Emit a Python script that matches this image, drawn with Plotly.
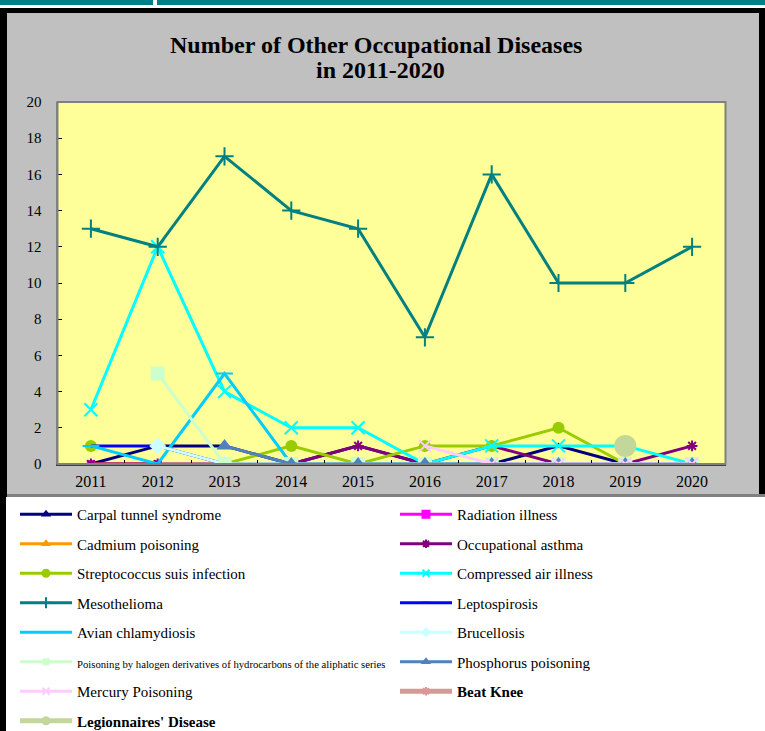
import plotly.graph_objects as go

W, H = 765, 731

years = ["2011", "2012", "2013", "2014", "2015", "2016", "2017", "2018", "2019", "2020"]
y_ticks = [0, 2, 4, 6, 8, 10, 12, 14, 16, 18, 20]

carpal_tunnel = [0, 1, 1, 0, 1, 0, 0, 1, 0, 0]
radiation_illness = [0, 0, None, None, None, None, None, None, None, None]
cadmium_poisoning = [0, 0, None, None, None, None, None, None, None, None]
occupational_asthma = [0, 0, 0, 0, 1, 0, 1, 0, 0, 1]
streptococcus_suis = [1, None, 0, 1, 0, 1, 1, 2, 0, None]
compressed_air = [3, 12, 4, 2, 2, 0, 1, 1, 1, 0]
mesothelioma = [13, 12, 17, 14, 13, 7, 16, 10, 10, 12]
leptospirosis = [1, 1, 0, 0, 0, 0, 0, 0, 0, 0]
avian_chlamydiosis = [1, 0, 5, 0, 0, 0, 0, 0, 0, 0]
brucellosis = [None, 1, 0, 0, 0, 0, 0, 0, 0, 0]
halogen_poisoning = [None, 5, 0, 0, 0, 0, 0, 0, 0, 0]
phosphorus_poisoning = [None, None, 1, 0, 0, 0, 0, 0, 0, 0]
mercury_poisoning = [None, None, None, None, None, 1, 0, 0, 0, 0]
beat_knee = [None, None, None, None, None, None, None, None, 1, None]
legionnaires = [None, None, None, None, None, None, None, None, 1, None]

series = [
    # name, values, color, symbol, plot size, legend size, legend line width, legend
    ("Carpal tunnel syndrome", carpal_tunnel, "#000080", "triangle-up", 7, 9, 3, "legend"),
    ("Radiation illness", radiation_illness, "#FF00FF", "square", 8, 9, 3, "legend2"),
    ("Cadmium poisoning", cadmium_poisoning, "#FF9900", "triangle-up", 8, 9, 3, "legend"),
    ("Occupational asthma", occupational_asthma, "#800080", "asterisk-open", 9, 7, 3, "legend2"),
    ("Streptococcus suis infection", streptococcus_suis, "#99CC00", "circle", 12, 9, 3, "legend"),
    ("Compressed air illness", compressed_air, "#00FFFF", "x-thin-open", 13, 7, 3, "legend2"),
    ("Mesothelioma", mesothelioma, "#008080", "cross-thin-open", 13, 8, 3, "legend"),
    ("Leptospirosis", leptospirosis, "#0000FF", "line-ew-open", 8, 6, 3, "legend2"),
    ("Avian chlamydiosis", avian_chlamydiosis, "#00CCFF", "line-ew-open", 12, 8, 3, "legend"),
    ("Brucellosis", brucellosis, "#CCFFFF", "diamond", 13, 8, 3, "legend2"),
    ('<span style="font-size:10.7px">Poisoning by halogen derivatives of hydrocarbons of the aliphatic series</span>',
     halogen_poisoning, "#CCFFCC", "square", 14, 7, 3, "legend"),
    ("Phosphorus poisoning", phosphorus_poisoning, "#4F81BD", "triangle-up", 14, 9, 3, "legend2"),
    ("Mercury Poisoning", mercury_poisoning, "#FFCCFF", "x-thin-open", 12, 7, 3, "legend"),
    ("<b>Beat Knee</b>", beat_knee, "#D99795", "asterisk-open", 10, 7, 5, "legend2"),
    ("<b>Legionnaires' Disease</b>", legionnaires, "#C4D79B", "circle", 22, 9, 5, "legend"),
]

fig = go.Figure()
for i, (name, vals, color, sym, size, lsize, lw, leg) in enumerate(series):
    open_sym = sym.endswith("-open")
    fig.add_trace(go.Scatter(
        x=years, y=vals, name=name, mode="lines+markers",
        line=dict(color=color, width=3),
        marker=dict(symbol=sym, size=size, color=color,
                    line=dict(color=color, width=2 if open_sym else 0)),
        showlegend=False, legendgroup="g%d" % i, connectgaps=False,
        hoverinfo="x+y+name",
    ))
for i, (name, vals, color, sym, size, lsize, lw, leg) in enumerate(series):
    open_sym = sym.endswith("-open")
    # legend-only entry with small marker, as in the reference legend
    fig.add_trace(go.Scatter(
        x=[years[0]], y=[None], name=name, mode="lines+markers",
        line=dict(color=color, width=lw),
        marker=dict(symbol=sym, size=lsize, color=color,
                    line=dict(color=color, width=2 if open_sym else 0)),
        legend=leg, legendgroup="g%d" % i, showlegend=True, hoverinfo="skip",
    ))

px0, px1 = 57.5, 725.5
py_top, py_bot = 102, 464

def fx(px):
    return px / W

def fy(py):
    return (H - py) / H

def rect(x0, x1, y0, y1, fill, layer="below", line=None):
    d = dict(type="rect", xref="paper", yref="paper",
             x0=fx(x0), x1=fx(x1), y0=fy(y1), y1=fy(y0), layer=layer)
    if fill is not None:
        d["fillcolor"] = fill
    if line is None:
        d["line"] = dict(width=0)
    else:
        d["line"] = line
    return d

shapes = [
    rect(0, W, 0, 5, "#008080"),
    rect(153, 157, 0, 5, "#FFFFFF"),
    rect(0, W, 8, 497, "#000000"),
    rect(0, 6, 497, H, "#000000"),
    rect(7, 759, 13, 494, "#C0C0C0"),
    rect(7, W, 494, 497, "#808080"),
    rect(px0, px1, py_top, py_bot, "#FFFF99"),
    rect(px0, px1, py_top, py_bot, "rgba(0,0,0,0)", layer="above",
         line=dict(color="#808080", width=2)),
]

legend_common = dict(
    yanchor="top", xanchor="left", orientation="v",
    bgcolor="rgba(0,0,0,0)", borderwidth=0,
    font=dict(size=15, family="Liberation Serif", color="#000000"),
    itemwidth=52, tracegroupgap=7, traceorder="grouped",
    itemclick=False, itemdoubleclick=False,
)

fig.update_layout(
    width=W, height=H,
    margin=dict(l=0, r=0, t=0, b=0, autoexpand=False),
    paper_bgcolor="#FFFFFF",
    plot_bgcolor="rgba(0,0,0,0)",
    font=dict(family="Liberation Serif, Times New Roman, serif", color="#000000"),
    shapes=shapes,
    showlegend=True,
    xaxis=dict(
        domain=[fx(px0), fx(px1)], type="category", categoryorder="array", categoryarray=years,
        range=[-0.5, 9.5], showgrid=False, zeroline=False,
        showline=True, linecolor="#404040", linewidth=2,
        ticks="inside", ticklen=4, tickcolor="#000000", tickson="boundaries",
        tickfont=dict(size=16, family="Liberation Serif"), ticklabelstandoff=2,
    ),
    yaxis=dict(
        domain=[fy(py_bot), fy(py_top)], range=[0, 20], tickvals=y_ticks,
        showgrid=False, zeroline=False,
        showline=True, linecolor="#808080", linewidth=2,
        ticks="inside", ticklen=4, tickcolor="#000000",
        tickfont=dict(size=15, family="Liberation Serif"), ticklabelstandoff=11,
    ),
    legend=dict(x=fx(15), y=fy(498), **legend_common),
    legend2=dict(x=fx(395), y=fy(498), **legend_common),
    annotations=[
        dict(text="<b>Number of Other Occupational Diseases</b>",
             x=fx(376), y=fy(45), xref="paper", yref="paper", xanchor="center", yanchor="middle",
             showarrow=False, font=dict(size=24, family="Liberation Serif", color="#000000")),
        dict(text="<b>in 2011-2020</b>",
             x=fx(380), y=fy(70), xref="paper", yref="paper", xanchor="center", yanchor="middle",
             showarrow=False, font=dict(size=24, family="Liberation Serif", color="#000000")),
    ],
)

fig.write_html("out.html", config={"displayModeBar": False},
               post_script="document.body.style.margin='0';")
